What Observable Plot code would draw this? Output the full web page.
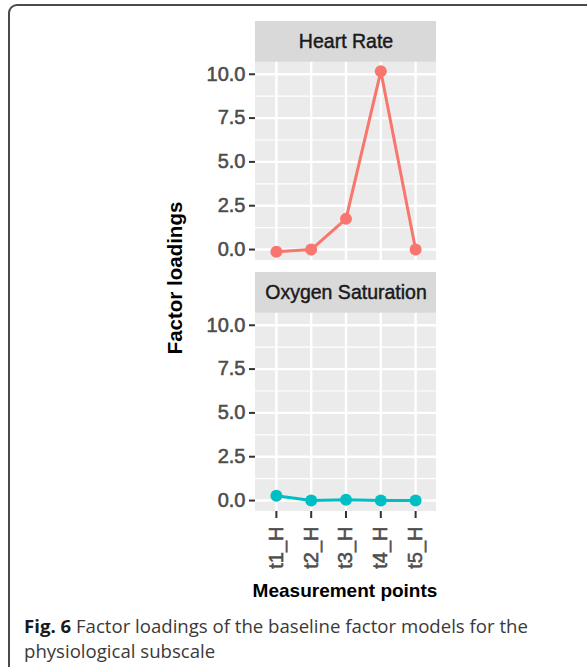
<!DOCTYPE html>
<html>
<head>
<meta charset="utf-8">
<script src="https://cdn.jsdelivr.net/npm/d3@7"></script>
<script src="https://cdn.jsdelivr.net/npm/@observablehq/plot@0.6"></script>
<style>
  html, body { margin: 0; padding: 0; background: #fff; width: 587px; height: 667px; overflow: hidden; }
  #frame {
    position: absolute; left: 8px; top: 4px; width: 620px; height: 700px;
    border: 2px solid #4a4a4a; border-radius: 9px; box-sizing: border-box;
  }
  #chart { position: absolute; left: 0; top: 0; }
  #chart svg [aria-label^="y-axis"] text, #chart svg [aria-label^="x-axis"] text {
    fill: #4D4D4D; stroke: #4D4D4D; stroke-width: 0.55px;
  }
  #chart svg [aria-label^="y-axis"] line, #chart svg [aria-label^="y-axis"] path,
  #chart svg [aria-label^="x-axis"] line, #chart svg [aria-label^="x-axis"] path {
    stroke: #333; stroke-width: 2px;
  }
  .title { position: absolute; font-family: "Liberation Sans", Arial, sans-serif; font-weight: bold; color: #000; white-space: nowrap; }
  #xtitle { left: 0; width: 690px; text-align: center; top: 579px; font-size: 19px; line-height: 24px; }
  #ytitle { left: 175px; top: 278px; font-size: 20.5px; line-height: 24px; transform: translate(-50%, -50%) rotate(-90deg); }
  .capline {
    position: absolute; left: 24px; white-space: nowrap;
    font-family: "Open Sans", "Noto Sans", sans-serif; font-size: 18.6px; line-height: 25px; color: #3a3a3a;
  }
  #cap1 { top: 613px; }
  #cap2 { top: 638px; }
  .capbold { font-weight: bold; color: #1a1a1a; }
</style>
</head>
<body>
<div id="frame"></div>
<div id="chart"></div>
<div id="ytitle" class="title">Factor loadings</div>
<div id="xtitle" class="title">Measurement points</div>
<div id="cap1" class="capline"><span class="capbold">Fig. 6</span><span> Factor loadings of the baseline factor models for the</span></div>
<div id="cap2" class="capline"><span>physiological subscale</span></div>
<script>
// ---- data ----
const points = ["t1_H", "t2_H", "t3_H", "t4_H", "t5_H"];
const panels = ["Heart Rate", "Oxygen Saturation"];
const heartRate = [-0.13, 0.0, 1.75, 10.17, 0.0];
const oxygenSaturation = [0.27, 0.0, 0.04, 0.0, 0.0];
const yTicks = [0, 2.5, 5, 7.5, 10];
const yMinor = [1.25, 3.75, 6.25, 8.75];
const colors = ["#F8766D", "#00BFC4"];

// ---- layout in data units ----
const xLo = 0.4, xHi = 5.6;
const yLo = -0.625, panelTop = 10.68, stripTop = 13.01;
const stripMid = (panelTop + stripTop) / 2;

const rows = [];
points.forEach((p, i) => {
  rows.push({panel: panels[0], x: i + 1, label: p, value: heartRate[i]});
  rows.push({panel: panels[1], x: i + 1, label: p, value: oxygenSaturation[i]});
});
const xs = points.map((p, i) => i + 1);

const chart = Plot.plot({
  width: 587,
  height: 612,
  marginLeft: 255,
  marginRight: 151,
  marginTop: 20,
  marginBottom: 100,
  style: {fontFamily: "'Liberation Sans', Arial, sans-serif", fontSize: "20px", background: "transparent"},
  x: {domain: [xLo, xHi], ticks: xs, tickFormat: d => points[d - 1], tickRotate: -90, tickSize: 7, tickPadding: 8, label: null},
  y: {domain: [yLo, stripTop], ticks: yTicks, tickFormat: d3.format(".1f"), tickSize: 6, tickPadding: 4, label: null},
  fy: {domain: panels, paddingInner: 0.0476, paddingOuter: 0, axis: null, label: null},
  color: {domain: panels, range: colors},
  marks: [
    Plot.rect(panels, {fy: d => d, x1: xLo, x2: xHi, y1: yLo, y2: panelTop, fill: "#EBEBEB"}),
    Plot.rect(panels, {fy: d => d, x1: xLo, x2: xHi, y1: panelTop, y2: stripTop, fill: "#D9D9D9"}),
    Plot.ruleY(yMinor, {x1: xLo, x2: xHi, stroke: "#fff", strokeWidth: 1.2}),
    Plot.ruleY(yTicks, {x1: xLo, x2: xHi, stroke: "#fff", strokeWidth: 2.4}),
    Plot.ruleX(xs, {y1: yLo, y2: panelTop, stroke: "#fff", strokeWidth: 2.4}),
    Plot.text(panels, {fy: d => d, x: (xLo + xHi) / 2, y: stripMid, text: d => d, fill: "#1A1A1A", fontSize: 19.5, stroke: "#1A1A1A", strokeWidth: 0.45}),
    Plot.line(rows, {fy: "panel", x: "x", y: "value", stroke: "panel", strokeWidth: 3}),
    Plot.dot(rows, {fy: "panel", x: "x", y: "value", fill: "panel", r: 6})
  ]
});
document.getElementById("chart").appendChild(chart);
</script>
</body>
</html>
